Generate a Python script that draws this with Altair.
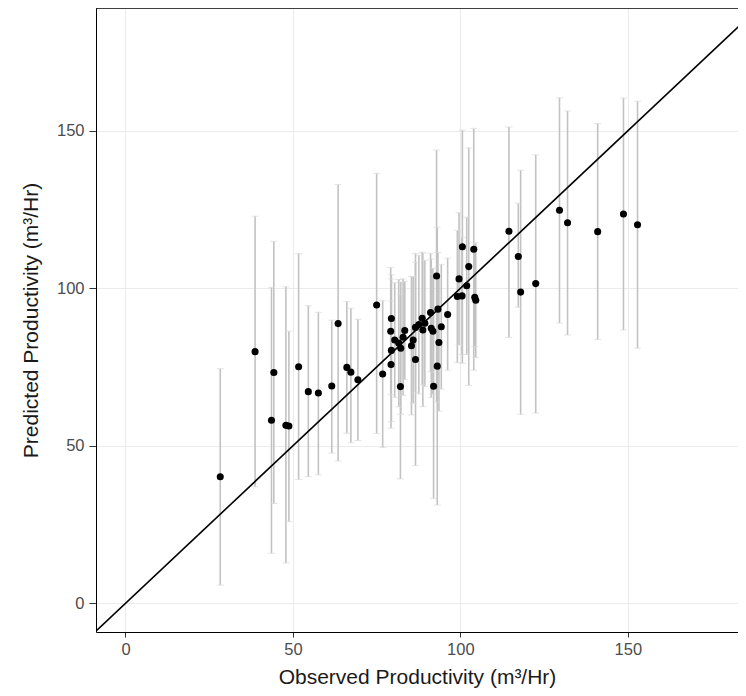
import altair as alt
import pandas as pd

# Observed vs predicted productivity (m3/Hr) with prediction intervals
observed = [28.3, 38.7, 44.3, 43.6, 47.9, 48.8, 51.7, 54.6, 57.6, 61.6,
            63.5, 66.1, 67.3, 69.4, 75.0, 76.8, 79.4, 79.2, 80.4, 79.4,
            79.3, 82.1, 81.6, 82.2, 82.9, 83.4, 85.4, 85.9, 86.6, 86.6,
            87.6, 88.6, 89.4, 88.8, 91.3, 91.1, 93.3, 91.8, 94.3, 93.6,
            93.1, 92.0, 92.9, 96.2, 99.6, 99.1, 100.5, 100.6, 101.9, 102.5,
            104.0, 104.3, 104.6, 114.5, 117.3, 118.0, 122.5, 129.6, 132.0, 141.0,
            148.7, 152.9]
predicted = [40.2, 79.9, 73.3, 58.1, 56.5, 56.3, 75.1, 67.2, 66.8, 69.0,
             88.8, 74.9, 73.4, 71.0, 94.7, 72.8, 90.4, 86.4, 83.6, 80.3,
             75.8, 68.8, 82.6, 81.0, 84.5, 86.6, 81.8, 83.6, 77.4, 87.6,
             88.5, 90.5, 88.9, 86.8, 87.3, 92.3, 93.4, 86.4, 87.8, 82.8,
             75.3, 68.9, 103.9, 91.7, 103.0, 97.4, 97.6, 113.2, 100.8, 106.9,
             112.4, 97.2, 96.2, 118.1, 110.1, 98.8, 101.5, 124.8, 120.8, 118.0,
             123.6, 120.2]
lower = [5.8, 37.0, 31.7, 15.9, 12.8, 26.0, 39.3, 40.2, 40.8, 47.7,
         45.2, 54.0, 51.0, 51.7, 53.9, 49.5, 76.5, 66.2, 65.4, 57.7,
         55.6, 39.5, 62.4, 60.0, 66.0, 71.0, 59.8, 63.5, 43.7, 67.0,
         66.5, 69.5, 68.9, 62.4, 65.3, 73.5, 75.4, 66.4, 68.0, 61.0,
         31.2, 33.3, 63.9, 74.0, 82.0, 76.4, 79.0, 76.2, 79.0, 69.2,
         74.0, 81.5, 78.0, 84.4, 94.0, 60.0, 60.4, 89.0, 85.2, 83.8,
         86.8, 81.0]
upper = [74.5, 122.9, 114.9, 100.3, 100.5, 86.4, 111.0, 94.5, 92.4, 89.9,
         133.0, 95.8, 93.7, 90.2, 136.5, 96.1, 104.3, 106.6, 101.8, 103.0,
         96.0, 98.1, 102.8, 102.0, 103.0, 102.2, 103.8, 103.7, 111.1, 108.2,
         110.5, 111.5, 108.9, 111.2, 109.3, 111.1, 111.4, 106.4, 107.6, 104.6,
         119.4, 104.5, 143.9, 109.6, 124.0, 118.4, 116.2, 150.2, 122.6, 144.6,
         150.8, 112.9, 114.4, 151.2, 127.0, 137.5, 142.4, 160.5, 156.3, 152.3,
         160.4, 159.4]

ticks = [0, 50, 100, 150]
x_domain = [-8.8, 182.9]
y_domain = [-9.1, 189.0]
line_ends = [-20, 200]

df = pd.DataFrame({"obs": observed, "pred": predicted, "lo": lower, "hi": upper})
ref = pd.DataFrame({"a": line_ends, "b": line_ends})

W, H = 642, 624
FONT = "Liberation Sans"

xs = alt.Scale(domain=x_domain, nice=False, zero=False)
ys = alt.Scale(domain=y_domain, nice=False, zero=False)

x_axis = alt.Axis(values=ticks, title="Observed Productivity (m³/Hr)",
                  tickSize=5, labelPadding=4, titlePadding=9)
y_axis = alt.Axis(values=ticks, title="Predicted Productivity (m³/Hr)",
                  tickSize=7, labelPadding=5, titlePadding=15)

base = alt.Chart(df)

bars = base.mark_rule(color="#c2c2c2", strokeWidth=1.6).encode(
    x=alt.X("obs:Q", scale=xs, axis=x_axis),
    y=alt.Y("lo:Q", scale=ys, axis=y_axis),
    y2="hi:Q",
)
cap_lo = base.mark_tick(color="#dadada", orient="horizontal", size=7, thickness=1).encode(
    x=alt.X("obs:Q", scale=xs), y=alt.Y("lo:Q", scale=ys))
cap_hi = base.mark_tick(color="#dadada", orient="horizontal", size=7, thickness=1).encode(
    x=alt.X("obs:Q", scale=xs), y=alt.Y("hi:Q", scale=ys))

diag = alt.Chart(ref).mark_line(color="black", strokeWidth=1.6, clip=True).encode(
    x=alt.X("a:Q", scale=xs), y=alt.Y("b:Q", scale=ys))

pts = base.mark_circle(color="black", size=50, opacity=1).encode(
    x=alt.X("obs:Q", scale=xs), y=alt.Y("pred:Q", scale=ys))

top = alt.Chart(ref).mark_rule(color="black", strokeWidth=1).encode(
    y=alt.datum(y_domain[1]), x=alt.value(0), x2=alt.value(W))

chart = alt.layer(bars, cap_lo, cap_hi, diag, pts, top).properties(
    width=W, height=H,
    autosize=alt.AutoSizeParams(type="none"),
    padding={"left": 88, "top": 0, "right": 0, "bottom": 64},
).configure_view(stroke=None).configure_axis(
    grid=True, gridColor="#ebebeb", gridWidth=1,
    domainColor="black", domainWidth=1,
    tickColor="#333333", tickWidth=1,
    labelFont=FONT, labelFontSize=16.5, labelColor="#4d4d4d",
    titleFont=FONT, titleFontSize=21, titleColor="#1a1a1a", titleFontWeight="normal",
)

chart.save("out.html", embed_options={"renderer": "svg", "actions": False})
